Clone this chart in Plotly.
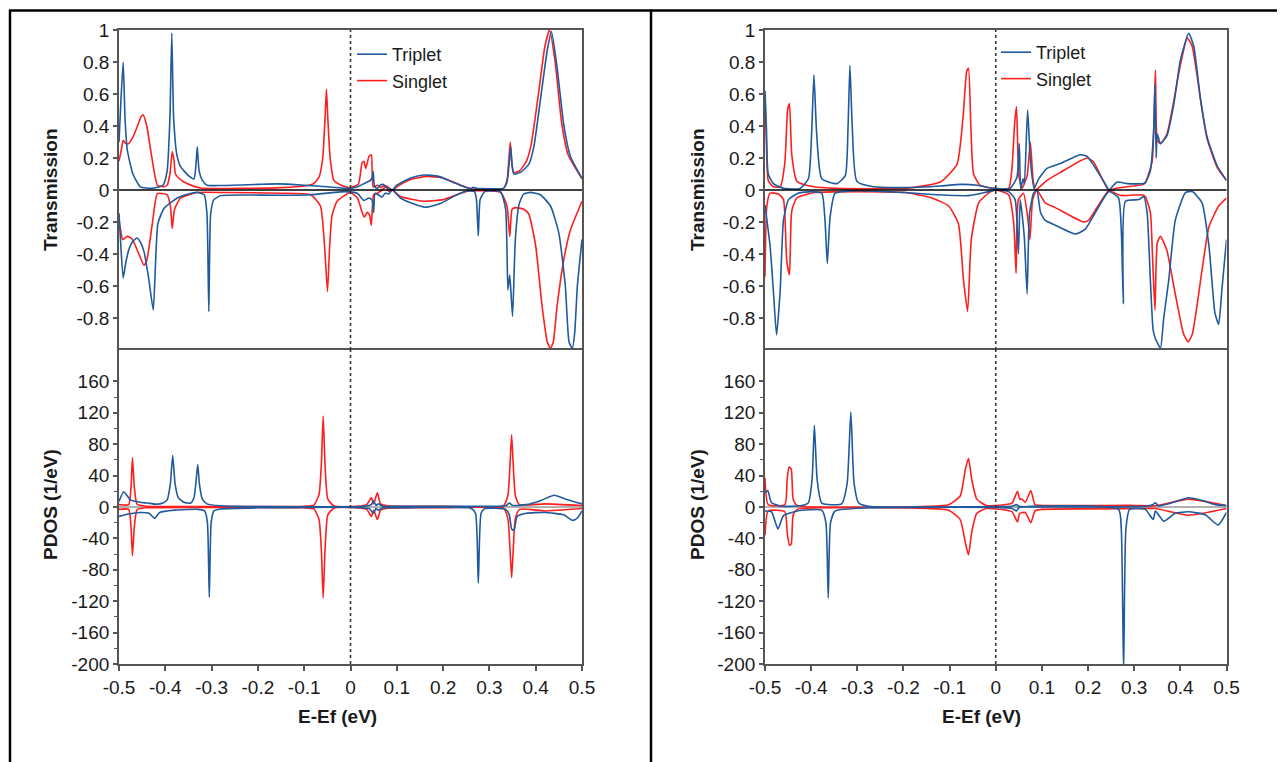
import plotly.graph_objects as go

# ---------------- data (energy E-Ef in eV, value) ----------------
# Left panel - Transmission
lt_trip_up = [(-0.5, 0.30), (-0.496, 0.55), (-0.491, 0.80), (-0.487, 0.45), (-0.482, 0.25), (-0.47, 0.10),
              (-0.454, 0.02), (-0.43, 0.01), (-0.405, 0.03), (-0.396, 0.12), (-0.39, 0.45), (-0.386, 0.98),
              (-0.382, 0.45), (-0.375, 0.22), (-0.367, 0.146), (-0.35, 0.09), (-0.338, 0.07), (-0.334, 0.15),
              (-0.331, 0.27), (-0.327, 0.12), (-0.32, 0.06), (-0.31, 0.03), (-0.28, 0.028), (-0.2, 0.035),
              (-0.158, 0.038), (-0.1, 0.03), (-0.05, 0.02), (0.0, 0.01), (0.015, 0.02), (0.029, 0.04),
              (0.043, 0.06), (0.047, 0.08), (0.049, 0.115), (0.052, 0.02), (0.058, 0.01), (0.064, 0.03),
              (0.07, 0.035), (0.076, 0.02), (0.083, 0.01), (0.09, 0.0), (0.1, 0.03), (0.13, 0.075),
              (0.158, 0.094), (0.19, 0.085), (0.22, 0.05), (0.245, 0.02), (0.259, 0.008), (0.265, 0.017),
              (0.272, 0.01), (0.3, 0.008), (0.33, 0.01), (0.338, 0.05), (0.343, 0.18), (0.346, 0.27),
              (0.349, 0.16), (0.353, 0.10), (0.367, 0.11), (0.385, 0.16), (0.396, 0.27), (0.41, 0.56),
              (0.425, 0.875), (0.434, 0.99), (0.446, 0.77), (0.461, 0.40), (0.475, 0.21), (0.5, 0.073)]
lt_sing_up = [(-0.5, 0.18), (-0.495, 0.25), (-0.491, 0.31), (-0.485, 0.29), (-0.479, 0.29), (-0.47, 0.33),
              (-0.46, 0.40), (-0.452, 0.46), (-0.448, 0.47), (-0.44, 0.40), (-0.43, 0.22), (-0.417, 0.03),
              (-0.405, 0.02), (-0.396, 0.03), (-0.39, 0.10), (-0.385, 0.24), (-0.381, 0.18), (-0.378, 0.10),
              (-0.365, 0.06), (-0.353, 0.04), (-0.324, 0.012), (-0.25, 0.01), (-0.15, 0.015), (-0.1, 0.025),
              (-0.08, 0.04), (-0.068, 0.08), (-0.06, 0.2), (-0.055, 0.45), (-0.052, 0.63), (-0.049, 0.45),
              (-0.044, 0.2), (-0.036, 0.06), (-0.02, 0.03), (0.0, 0.015), (0.017, 0.036), (0.025, 0.17),
              (0.029, 0.18), (0.033, 0.135), (0.04, 0.21), (0.045, 0.22), (0.049, 0.02), (0.058, 0.03),
              (0.066, 0.015), (0.074, 0.03), (0.082, 0.015), (0.09, 0.0), (0.1, 0.02), (0.13, 0.065),
              (0.165, 0.085), (0.2, 0.075), (0.23, 0.04), (0.26, 0.008), (0.3, 0.005), (0.33, 0.01),
              (0.338, 0.06), (0.342, 0.19), (0.345, 0.30), (0.348, 0.18), (0.352, 0.11), (0.365, 0.12),
              (0.38, 0.18), (0.39, 0.28), (0.405, 0.58), (0.42, 0.90), (0.43, 1.0), (0.442, 0.80),
              (0.456, 0.42), (0.47, 0.22), (0.5, 0.07)]
lt_trip_dn = [(-0.5, -0.146), (-0.497, -0.3), (-0.491, -0.55), (-0.485, -0.45), (-0.479, -0.375), (-0.47, -0.32),
              (-0.461, -0.30), (-0.453, -0.33), (-0.446, -0.385), (-0.436, -0.55), (-0.426, -0.75), (-0.421, -0.45),
              (-0.416, -0.21), (-0.403, -0.115), (-0.374, -0.05), (-0.35, -0.025), (-0.331, -0.015), (-0.316, -0.03),
              (-0.31, -0.15), (-0.306, -0.76), (-0.302, -0.15), (-0.295, -0.06), (-0.28, -0.035), (-0.23, -0.031),
              (-0.158, -0.033), (-0.086, -0.03), (-0.014, -0.01), (0.0144, -0.02), (0.029, -0.065), (0.04, -0.05),
              (0.047, -0.065), (0.05, -0.14), (0.053, -0.02), (0.06, -0.03), (0.068, -0.045), (0.075, -0.02),
              (0.083, -0.025), (0.09, 0.0), (0.108, -0.05), (0.13, -0.08), (0.162, -0.108), (0.194, -0.085),
              (0.223, -0.04), (0.252, -0.005), (0.268, -0.01), (0.272, -0.06), (0.276, -0.287), (0.28, -0.06),
              (0.29, -0.01), (0.324, -0.01), (0.335, -0.12), (0.34, -0.625), (0.344, -0.53), (0.35, -0.79),
              (0.356, -0.31), (0.364, -0.09), (0.374, -0.025), (0.389, -0.015), (0.41, -0.03), (0.432, -0.1),
              (0.45, -0.27), (0.464, -0.6), (0.472, -0.95), (0.479, -0.99), (0.484, -0.9), (0.49, -0.6), (0.5, -0.31)]
lt_sing_dn = [(-0.5, -0.19), (-0.496, -0.26), (-0.492, -0.31), (-0.482, -0.29), (-0.472, -0.305), (-0.457, -0.4),
              (-0.446, -0.47), (-0.44, -0.44), (-0.428, -0.21), (-0.417, -0.023), (-0.396, -0.03), (-0.389, -0.1),
              (-0.385, -0.24), (-0.38, -0.12), (-0.367, -0.05), (-0.331, -0.016), (-0.266, -0.016), (-0.15, -0.02),
              (-0.086, -0.03), (-0.065, -0.1), (-0.056, -0.35), (-0.0497, -0.635), (-0.045, -0.35), (-0.04, -0.16),
              (-0.029, -0.07), (0.0, -0.016), (0.015, -0.05), (0.025, -0.14), (0.03, -0.17), (0.036, -0.14),
              (0.041, -0.155), (0.045, -0.22), (0.05, -0.03), (0.058, -0.02), (0.068, 0.0), (0.077, 0.02),
              (0.083, -0.01), (0.09, 0.0), (0.108, -0.04), (0.158, -0.07), (0.2, -0.06), (0.238, -0.02),
              (0.259, -0.005), (0.324, -0.015), (0.338, -0.1), (0.344, -0.29), (0.349, -0.12), (0.356, -0.11),
              (0.374, -0.12), (0.385, -0.15), (0.4, -0.35), (0.414, -0.73), (0.425, -0.95), (0.432, -0.99),
              (0.438, -0.95), (0.446, -0.73), (0.461, -0.43), (0.475, -0.25), (0.5, -0.07)]

# Left panel - PDOS
lp_trip_up = [(-0.5, 7), (-0.49, 19.5), (-0.482, 14), (-0.475, 9), (-0.455, 6), (-0.439, 5), (-0.42, 3.5),
              (-0.405, 5), (-0.396, 9), (-0.389, 30), (-0.384, 66), (-0.379, 30), (-0.372, 12), (-0.36, 6),
              (-0.345, 5), (-0.338, 12), (-0.334, 30), (-0.33, 54), (-0.326, 28), (-0.32, 10), (-0.31, 4),
              (-0.28, 1.5), (-0.2, 0.5), (0.0, 0.3), (0.03, 1), (0.045, 3), (0.05, 8), (0.055, 2), (0.06, 4),
              (0.07, 1), (0.1, 0.8), (0.27, 0.8), (0.335, 1.5), (0.343, 5), (0.35, 2), (0.38, 3), (0.41, 8),
              (0.44, 15), (0.465, 10), (0.5, 4)]
lp_trip_dn = [(-0.5, -12), (-0.48, -9), (-0.455, -7), (-0.435, -8), (-0.423, -14.5), (-0.412, -7), (-0.38, -4),
              (-0.33, -3), (-0.315, -5), (-0.309, -20), (-0.305, -115), (-0.301, -20), (-0.295, -5), (-0.28, -2.5),
              (-0.2, -1), (0.0, -0.5), (0.04, -2), (0.05, -8), (0.055, -2), (0.06, -4), (0.07, -1), (0.1, -1),
              (0.26, -1.5), (0.27, -8), (0.276, -97), (0.282, -8), (0.29, -2), (0.335, -3), (0.343, -10),
              (0.348, -28), (0.353, -30), (0.36, -12), (0.38, -8), (0.42, -7), (0.46, -10), (0.48, -17),
              (0.49, -14), (0.5, -5)]
lp_sing_up = [(-0.5, 3), (-0.479, 3), (-0.474, 26), (-0.471, 63), (-0.467, 26), (-0.461, 3.5), (-0.44, 1),
              (-0.3, 0.5), (-0.1, 1), (-0.079, 2.5), (-0.068, 16), (-0.063, 54), (-0.059, 116), (-0.055, 54),
              (-0.049, 10), (-0.036, 1.5), (0.0, 0.5), (0.035, 3), (0.045, 12), (0.05, 4), (0.058, 18),
              (0.065, 4), (0.08, 1.5), (0.2, 1), (0.33, 1.5), (0.34, 15), (0.345, 60), (0.348, 92),
              (0.351, 60), (0.356, 15), (0.365, 3), (0.42, 4), (0.5, 2)]
lp_sing_dn = [(-0.5, -3), (-0.479, -3), (-0.474, -26), (-0.471, -62), (-0.467, -26), (-0.461, -3.5), (-0.44, -1),
              (-0.3, -0.5), (-0.1, -1), (-0.079, -2.5), (-0.068, -16), (-0.063, -54), (-0.059, -116), (-0.055, -54),
              (-0.049, -10), (-0.036, -1.5), (0.0, -0.5), (0.035, -3), (0.045, -12), (0.05, -4), (0.058, -16),
              (0.065, -4), (0.08, -1.5), (0.2, -1), (0.33, -1.5), (0.34, -15), (0.345, -60), (0.348, -90),
              (0.351, -60), (0.356, -15), (0.365, -3), (0.42, -5), (0.5, -2)]

# Right panel - Transmission
rt_trip_up = [(-0.5, 0.62), (-0.497, 0.40), (-0.493, 0.10), (-0.482, 0.04), (-0.46, 0.01), (-0.424, 0.01),
              (-0.406, 0.07), (-0.399, 0.35), (-0.394, 0.72), (-0.388, 0.35), (-0.377, 0.07), (-0.344, 0.04),
              (-0.326, 0.09), (-0.32, 0.40), (-0.316, 0.78), (-0.311, 0.40), (-0.301, 0.055), (-0.265, 0.02),
              (-0.2, 0.015), (-0.12, 0.025), (-0.077, 0.035), (-0.04, 0.03), (-0.005, 0.01), (0.031, 0.01),
              (0.046, 0.08), (0.051, 0.29), (0.054, 0.005), (0.059, 0.07), (0.062, 0.04), (0.069, 0.5),
              (0.075, 0.19), (0.083, 0.01), (0.093, 0.07), (0.111, 0.135), (0.14, 0.165), (0.183, 0.22),
              (0.198, 0.21), (0.241, 0.02), (0.245, 0.0), (0.263, 0.05), (0.285, 0.04), (0.32, 0.04),
              (0.325, 0.05), (0.335, 0.12), (0.342, 0.36), (0.345, 0.66), (0.3475, 0.2), (0.35, 0.35),
              (0.357, 0.29), (0.371, 0.34), (0.386, 0.54), (0.4, 0.81), (0.418, 0.98), (0.429, 0.9),
              (0.444, 0.56), (0.458, 0.33), (0.48, 0.15), (0.5, 0.06)]
rt_sing_up = [(-0.5, 0.56), (-0.497, 0.3), (-0.493, 0.06), (-0.482, 0.02), (-0.467, 0.02), (-0.457, 0.17),
              (-0.451, 0.5), (-0.447, 0.54), (-0.442, 0.22), (-0.431, 0.055), (-0.394, 0.02), (-0.345, 0.01),
              (-0.25, 0.008), (-0.193, 0.01), (-0.12, 0.05), (-0.084, 0.16), (-0.071, 0.45), (-0.063, 0.74),
              (-0.059, 0.76), (-0.054, 0.4), (-0.048, 0.1), (-0.034, 0.03), (-0.005, 0.01), (0.028, 0.01),
              (0.035, 0.13), (0.041, 0.42), (0.045, 0.52), (0.05, 0.09), (0.057, 0.01), (0.068, 0.09),
              (0.075, 0.30), (0.081, 0.06), (0.086, 0.0), (0.111, 0.06), (0.14, 0.11), (0.198, 0.2),
              (0.212, 0.175), (0.245, 0.0), (0.263, 0.012), (0.32, 0.035), (0.325, 0.05), (0.339, 0.18),
              (0.346, 0.75), (0.35, 0.31), (0.357, 0.29), (0.371, 0.35), (0.386, 0.56), (0.4, 0.78),
              (0.415, 0.95), (0.4255, 0.9), (0.444, 0.56), (0.458, 0.32), (0.48, 0.14), (0.5, 0.06)]
rt_trip_dn = [(-0.5, -0.094), (-0.489, -0.35), (-0.482, -0.625), (-0.475, -0.906), (-0.467, -0.625), (-0.46, -0.19),
              (-0.449, -0.06), (-0.428, -0.02), (-0.4, -0.01), (-0.377, -0.02), (-0.37, -0.19), (-0.365, -0.46),
              (-0.359, -0.17), (-0.348, -0.02), (-0.305, -0.005), (-0.196, -0.016), (-0.124, -0.03), (-0.059, -0.035),
              (-0.016, -0.01), (0.0, 0.0), (0.028, -0.01), (0.042, -0.06), (0.049, -0.4), (0.053, -0.06),
              (0.057, -0.15), (0.062, -0.3), (0.068, -0.65), (0.073, -0.15), (0.082, -0.02), (0.089, 0.0),
              (0.097, -0.14), (0.107, -0.19), (0.129, -0.22), (0.172, -0.275), (0.194, -0.245), (0.245, -0.01),
              (0.266, -0.05), (0.272, -0.25), (0.2765, -0.71), (0.281, -0.07), (0.31, -0.06), (0.3205, -0.04),
              (0.328, -0.14), (0.335, -0.56), (0.341, -0.875), (0.346, -0.93), (0.351, -0.96), (0.357, -0.99),
              (0.364, -0.8), (0.375, -0.56), (0.389, -0.19), (0.411, -0.016), (0.426, -0.01), (0.447, -0.08),
              (0.462, -0.35), (0.475, -0.77), (0.483, -0.84), (0.49, -0.625), (0.5, -0.31)]
rt_sing_dn = [(-0.5, -0.54), (-0.496, -0.1), (-0.489, -0.02), (-0.471, -0.025), (-0.46, -0.06), (-0.453, -0.44),
              (-0.447, -0.53), (-0.442, -0.13), (-0.431, -0.05), (-0.392, -0.016), (-0.3, -0.01), (-0.196, -0.016),
              (-0.138, -0.05), (-0.102, -0.1), (-0.081, -0.21), (-0.07, -0.56), (-0.061, -0.76), (-0.053, -0.31),
              (-0.037, -0.08), (-0.016, -0.02), (0.0, 0.0), (0.028, -0.03), (0.039, -0.21), (0.044, -0.52),
              (0.049, -0.06), (0.06, -0.02), (0.07, -0.19), (0.074, -0.31), (0.08, -0.06), (0.089, 0.0),
              (0.107, -0.08), (0.129, -0.11), (0.19, -0.2), (0.201, -0.19), (0.245, -0.005), (0.266, -0.03),
              (0.274, -0.035), (0.317, -0.03), (0.324, -0.04), (0.335, -0.14), (0.34, -0.44), (0.345, -0.75),
              (0.35, -0.33), (0.357, -0.29), (0.371, -0.38), (0.389, -0.65), (0.407, -0.9), (0.417, -0.95),
              (0.426, -0.9), (0.447, -0.5), (0.462, -0.23), (0.483, -0.1), (0.5, -0.05)]

# Right panel - PDOS
rp_trip_up = [(-0.5, 18), (-0.494, 21), (-0.486, 5.5), (-0.464, 1), (-0.42, 2), (-0.406, 5.5), (-0.398, 35),
              (-0.393, 104), (-0.387, 35), (-0.377, 5), (-0.334, 4), (-0.322, 30), (-0.314, 121), (-0.307, 30),
              (-0.297, 5), (-0.276, 1), (0.0, 0.5), (0.035, 1), (0.045, 3), (0.05, 1), (0.3, 0.5), (0.324, 1),
              (0.34, 3), (0.346, 5.5), (0.352, 1.5), (0.38, 5), (0.418, 11.8), (0.45, 8), (0.476, 3), (0.5, 2)]
rp_trip_dn = [(-0.5, -5), (-0.486, -6), (-0.472, -28), (-0.46, -11), (-0.43, -5), (-0.377, -4), (-0.368, -20),
              (-0.363, -116), (-0.358, -20), (-0.348, -5), (-0.276, -1), (0.0, -0.5), (0.035, -2), (0.045, -5),
              (0.05, -1), (0.266, -3), (0.272, -28), (0.277, -210), (0.282, -28), (0.29, -3), (0.324, -3),
              (0.341, -16), (0.346, -5), (0.364, -18), (0.389, -8), (0.418, -6), (0.454, -10), (0.482, -23),
              (0.5, -7)]
rp_sing_up = [(-0.5, 37), (-0.493, 3), (-0.457, 3), (-0.452, 35), (-0.448, 51), (-0.443, 48), (-0.439, 10),
              (-0.43, 2), (-0.146, 1), (-0.102, 3), (-0.077, 14), (-0.066, 47.5), (-0.059, 62), (-0.052, 35),
              (-0.041, 10), (-0.02, 2), (0.035, 5), (0.047, 20), (0.052, 10), (0.057, 10), (0.064, 6),
              (0.076, 21), (0.085, 3), (0.1, 2), (0.3, 2), (0.346, 1.5), (0.418, 10), (0.5, 1.5)]
rp_sing_dn = [(-0.5, -36), (-0.493, -5), (-0.457, -6), (-0.452, -32), (-0.447, -49), (-0.443, -47), (-0.439, -10),
              (-0.43, -3), (-0.146, -2), (-0.102, -4), (-0.077, -16), (-0.066, -45), (-0.059, -61), (-0.052, -32),
              (-0.041, -8), (-0.02, -2), (0.035, -6), (0.047, -19), (0.052, -8), (0.064, -7), (0.076, -20),
              (0.085, -5), (0.1, -3), (0.3, -2), (0.346, -2), (0.418, -10.5), (0.5, -2)]

# ticks
x_ticks = [-0.5, -0.4, -0.3, -0.2, -0.1, 0, 0.1, 0.2, 0.3, 0.4, 0.5]
x_labels = ["-0.5", "-0.4", "-0.3", "-0.2", "-0.1", "0", "0.1", "0.2", "0.3", "0.4", "0.5"]
t_ticks = [1, 0.8, 0.6, 0.4, 0.2, 0, -0.2, -0.4, -0.6, -0.8]
t_labels = ["1", "0.8", "0.6", "0.4", "0.2", "0", "-0.2", "-0.4", "-0.6", "-0.8"]
p_ticks = [160, 120, 80, 40, 0, -40, -80, -120, -160, -200]
p_labels = ["160", "120", "80", "40", "0", "-40", "-80", "-120", "-160", "-200"]

# ---------------- styling ----------------
BLUE = "#1f5a9e"
RED = "#ff1e1e"
FRAME = "#555555"
TXT = "#1a1a1a"
FONT = "Liberation Sans, Arial, sans-serif"
W, H = 1285, 762
OFF = 8  # the page body keeps its default 8px margin


def fx(p):
    return (p - OFF) / W


def fy(p):
    return (H - (p - OFF)) / H


LX = [fx(119), fx(582)]
RX = [fx(765), fx(1226.5)]
TOPD = [fy(350), fy(30)]
BOTD = [fy(664), fy(350)]

fig = go.Figure()


def add(curve, color, xa, ya, name=None, legend=None, rank=None):
    xs = [p[0] for p in curve]
    ys = [p[1] for p in curve]
    fig.add_trace(go.Scatter(
        x=xs, y=ys, mode="lines", xaxis=xa, yaxis=ya,
        line=dict(color=color, width=1.6, shape="spline", smoothing=0.5),
        name=name if name else "", showlegend=name is not None,
        legend=legend if legend else "legend",
        legendrank=rank if rank else 1000, hoverinfo="skip"))


# left top
add(lt_sing_dn, RED, "x", "y")
add(lt_sing_up, RED, "x", "y", "Singlet", "legend", 2)
add(lt_trip_dn, BLUE, "x", "y")
add(lt_trip_up, BLUE, "x", "y", "Triplet", "legend", 1)
# left bottom
add(lp_sing_dn, RED, "x2", "y2")
add(lp_sing_up, RED, "x2", "y2")
add(lp_trip_dn, BLUE, "x2", "y2")
add(lp_trip_up, BLUE, "x2", "y2")
# right top
add(rt_sing_dn, RED, "x3", "y3")
add(rt_sing_up, RED, "x3", "y3", "Singlet", "legend2", 2)
add(rt_trip_dn, BLUE, "x3", "y3")
add(rt_trip_up, BLUE, "x3", "y3", "Triplet", "legend2", 1)
# right bottom
add(rp_sing_dn, RED, "x4", "y4")
add(rp_sing_up, RED, "x4", "y4")
add(rp_trip_dn, BLUE, "x4", "y4")
add(rp_trip_up, BLUE, "x4", "y4")

tickfont = dict(family=FONT, size=19, color=TXT)


def xaxis(domain, anchor, labels):
    d = dict(domain=domain, anchor=anchor, range=[-0.5, 0.5], showgrid=False, zeroline=False,
             showline=True, linecolor=FRAME, linewidth=1.8,
             tickmode="array", tickvals=x_ticks, ticktext=x_labels, tickfont=tickfont)
    if labels:
        d.update(mirror=True, ticks="outside", ticklen=5, tickwidth=1.5, tickcolor=FRAME, showticklabels=True)
    else:
        d.update(side="top", mirror=False, ticks="", showticklabels=False)
    return d


def yaxis_t(domain, anchor):
    return dict(domain=domain, anchor=anchor, range=[-1, 1], showgrid=False, zeroline=False,
                showline=True, mirror=True, linecolor=FRAME, linewidth=1.8,
                tickmode="array", tickvals=t_ticks, ticktext=t_labels, tickfont=tickfont,
                ticks="outside", ticklen=4, tickwidth=1.5, tickcolor=FRAME)


def yaxis_p(domain, anchor):
    return dict(domain=domain, anchor=anchor, range=[-200, 200], showgrid=False, zeroline=False,
                showline=True, mirror=True, linecolor=FRAME, linewidth=1.8,
                tickmode="array", tickvals=p_ticks, ticktext=p_labels, tickfont=tickfont,
                ticks="outside", ticklen=4, tickwidth=1.5, tickcolor=FRAME,
                minor=dict(ticks="outside", ticklen=3, tickwidth=1.2, tickcolor=FRAME,
                           tickmode="array", tickvals=[140, 100, 60, 20, -20, -60, -100, -140, -180]))


shapes = []
for xa, ya in [("x", "y"), ("x3", "y3")]:
    shapes.append(dict(type="line", xref=xa + " domain", yref=ya, x0=0, x1=1, y0=0, y1=0,
                       line=dict(color="black", width=1.6), layer="above"))
for xa, ya in [("x2", "y2"), ("x4", "y4")]:
    shapes.append(dict(type="line", xref=xa + " domain", yref=ya, x0=0, x1=1, y0=0, y1=0,
                       line=dict(color="#666666", width=1), layer="below"))
for xa, ya in [("x", "y"), ("x2", "y2"), ("x3", "y3"), ("x4", "y4")]:
    shapes.append(dict(type="line", xref=xa, yref=ya + " domain", x0=0, x1=0, y0=0, y1=1,
                       line=dict(color="#333333", width=1.6, dash="dot"), layer="above"))
# table borders
shapes.append(dict(type="line", xref="paper", yref="paper", x0=fx(9), x1=1, y0=fy(10.5), y1=fy(10.5),
                   line=dict(color="black", width=2.5)))
shapes.append(dict(type="line", xref="paper", yref="paper", x0=fx(10), x1=fx(10), y0=0, y1=fy(10),
                   line=dict(color="black", width=2.5)))
shapes.append(dict(type="line", xref="paper", yref="paper", x0=fx(651), x1=fx(651), y0=0, y1=fy(10),
                   line=dict(color="black", width=2.5)))

title_font = dict(family=FONT, size=19, color=TXT)
annotations = []
for x in [50, 697]:
    annotations.append(dict(text="<b>Transmission</b>", x=fx(x), y=fy(190), xref="paper", yref="paper",
                            textangle=-90, showarrow=False, font=title_font, xanchor="center", yanchor="middle"))
    annotations.append(dict(text="<b>PDOS (1/eV)</b>", x=fx(x), y=fy(505), xref="paper", yref="paper",
                            textangle=-90, showarrow=False, font=title_font, xanchor="center", yanchor="middle"))
for x in [338, 981]:
    annotations.append(dict(text="<b>E-Ef (eV)</b>", x=fx(x), y=fy(716), xref="paper", yref="paper",
                            showarrow=False, font=title_font, xanchor="center", yanchor="middle"))

legend_style = dict(font=dict(family=FONT, size=18, color=TXT), bgcolor="rgba(0,0,0,0)",
                    borderwidth=0, xanchor="left", yanchor="top", traceorder="normal",
                    itemwidth=30, tracegroupgap=0)

fig.update_layout(
    width=W, height=H, margin=dict(l=0, r=0, t=0, b=0, autoexpand=False),
    paper_bgcolor="white", plot_bgcolor="white", showlegend=True,
    xaxis=xaxis(LX, "y", False), yaxis=yaxis_t(TOPD, "x"),
    xaxis2=xaxis(LX, "y2", True), yaxis2=yaxis_p(BOTD, "x2"),
    xaxis3=xaxis(RX, "y3", False), yaxis3=yaxis_t(TOPD, "x3"),
    xaxis4=xaxis(RX, "y4", True), yaxis4=yaxis_p(BOTD, "x4"),
    legend=dict(x=fx(352), y=fy(36), **legend_style),
    legend2=dict(x=fx(996), y=fy(34), **legend_style),
    shapes=shapes, annotations=annotations,
)

fig.write_html("out.html", config={"displayModeBar": False})
